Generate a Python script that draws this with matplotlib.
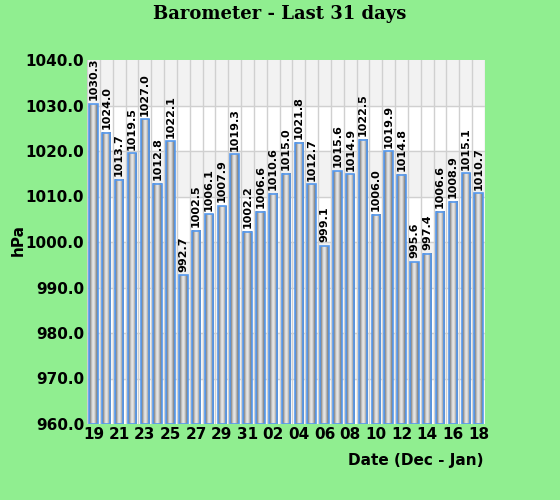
import matplotlib
matplotlib.use("Agg")
import matplotlib.pyplot as plt
import numpy as np

days = ["19","20","21","22","23","24","25","26","27","28","29","30","31",
        "01","02","03","04","05","06","07","08","09","10","11","12","13","14","15","16","17","18"]
values = [1030.3,1024.0,1013.7,1019.5,1027.0,1012.8,1022.1,992.7,1002.5,1006.1,1007.9,1019.3,
          1002.2,1006.6,1010.6,1015.0,1021.8,1012.7,999.1,1015.6,1014.9,1022.5,1006.0,1019.9,
          1014.8,995.6,997.4,1006.6,1008.9,1015.1,1010.7]

bg = "#90EE90"
fig = plt.figure(figsize=(5.6, 5.0), dpi=100, facecolor=bg)
ax = fig.add_axes([87/560, 1-424/500, (485-87)/560, (424-60)/500])
ax.set_facecolor("white")
ymin, ymax = 960, 1040
n = len(values)
for lo in (1030, 1010, 990, 970):
    ax.axhspan(lo, lo+10, color="#f2f2f2", zorder=0)
for y in range(970, 1040, 10):
    ax.axhline(y, color="#d0d0d0", lw=1, zorder=0.5)
for i in range(n+1):
    ax.axvline(i-0.5, color="#d0d0d0", lw=1, zorder=0.5)

grad = np.array([[0.45, 0.65, 0.85, 0.92, 0.82, 0.62, 0.45]])
w = 0.66
for i, v in enumerate(values):
    ax.imshow(grad, cmap="gray", vmin=0, vmax=1, aspect="auto",
              extent=(i-w/2, i+w/2, ymin, v), zorder=2, interpolation="bicubic")
    ax.bar(i, v-ymin, bottom=ymin, width=w, facecolor="none", edgecolor="#5599ee", lw=1.2, zorder=3)
    ax.text(i, v+0.8, f"{v:.1f}", rotation=90, ha="center", va="bottom",
            fontsize=8, fontweight="bold", zorder=4, clip_on=False)
ax.set_xlim(-0.5, n-0.5)
ax.set_ylim(ymin, ymax)
ax.set_xticks(range(0, n, 2))
ax.set_xticklabels(days[::2], fontsize=11, fontweight="bold")
ax.set_yticks(range(960, 1041, 10))
ax.set_yticklabels([f"{t:.1f}" for t in range(960, 1041, 10)], fontsize=11, fontweight="bold")
ax.tick_params(length=0, pad=2)
for s in ax.spines.values():
    s.set_visible(False)
fig.text(0.5, 1-14/500, "Barometer - Last 31 days", ha="center", va="center",
         fontsize=13, fontweight="bold", family="DejaVu Serif")
fig.text(483/560, 1-461/500, "Date (Dec - Jan)", ha="right", va="center", fontsize=11, fontweight="bold")
fig.text(18/560, 1-240/500, "hPa", rotation=90, ha="center", va="center", fontsize=11, fontweight="bold")
fig.savefig("out.png", dpi=100, facecolor=bg)
